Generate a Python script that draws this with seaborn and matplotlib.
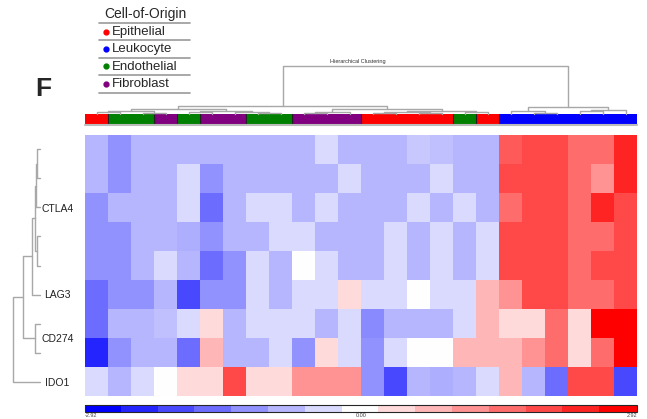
import numpy as np
import pandas as pd
import seaborn as sns
import matplotlib.pyplot as plt
from matplotlib.colors import LinearSegmentedColormap, ListedColormap, BoundaryNorm
from matplotlib.lines import Line2D
import matplotlib as mpl

# --- data ---
genes = ['CTLA4', 'CTLA4', 'CTLA4', 'CTLA4', 'CTLA4', 'LAG3', 'CD274', 'CD274', 'IDO1']
cell_origin = ['Epithelial', 'Endothelial', 'Endothelial', 'Fibroblast', 'Endothelial',
               'Fibroblast', 'Fibroblast', 'Endothelial', 'Endothelial', 'Fibroblast',
               'Fibroblast', 'Fibroblast', 'Epithelial', 'Epithelial', 'Epithelial',
               'Epithelial', 'Endothelial', 'Epithelial', 'Leukocyte', 'Leukocyte',
               'Leukocyte', 'Leukocyte', 'Leukocyte', 'Leukocyte']
origin_names = ['Epithelial', 'Leukocyte', 'Endothelial', 'Fibroblast']
origin_colors = ['#ff0000', '#0000ff', '#008000', '#800080']

# colour steps (-7..7) seen in the cells, scaled to the z range +-2.92
zmax = 2.92
levels = [
    [-2, -3, -2, -2, -2, -2, -2, -2, -2, -2, -1, -2, -2, -2, -1.5, -1.7, -2, -2, 4.5, 5, 5, 4, 4, 6],
    [-2, -3, -2, -2, -1, -3, -2, -2, -2, -2, -2, -1, -2, -2, -2, -1, -2, -2, 5, 5, 5, 4, 3, 6],
    [-3, -2, -2, -2, -1, -4, -2, -1, -1, -2, -1, -2, -2, -2, -1, -2, -1, -2, 4, 5, 5, 4, 6, 5],
    [-3, -3, -2, -2, -2.2, -3, -2, -2, -1, -1, -2, -2, -2, -1, -2, -1, -2, -1, 5, 5, 5, 4, 4, 5],
    [-3, -3, -2, -1, -2, -4, -3, -1, -2, 0, -1, -2, -2, -1, -2, -1, -2, -1, 5, 5, 5, 4, 5, 5],
    [-4, -3, -3, -2, -5, -3, -3, -1, -2, -1, -1, 1, -1, -1, 0, -1, -1, 2, 3, 5, 5, 4, 4, 5],
    [-4, -2, -2, -1.7, -1, 1, -2, -1, -1, -1, -2, -1, -3.2, -2, -2, -2, -1, 2, 1, 1, 4, 1, 7, 7],
    [-6, -3, -2, -2, -4, 2, -2, -2, -1, -3, 1, -1, -3, -1, 0, 0, 2, 2, 2, 3, 4, 1, 4, 7],
    [-1, -2, -1, 0, 1, 1, 5, 1, 1, 3, 3, 3, -3, -5, -2, -2.2, -2, -1, 2, -2, -4, 5, 5, -5],
]

# dendrograms as nested (left, right, height); ints are leaves
col_tree = (((((0, 1, 2), (2, 3, 1.5), 3.5), ((4, 5, 2), (6, (7, 8, 1), 2.5), 3.5), 5),
             (((9, 10, 1.5), 11, 2.5), (((12, 13, 1), (14, 15, 1.5), 2.5), (16, 17, 2), 3.5), 5.5), 8),
            ((18, (19, 20, 1.5), 3), ((21, 22, 3), 23, 4.5), 7.5), 49)
row_tree = (((((((0, 1, 3), 2, 4), (3, 4, 3), 5), 5, 8), (6, 7, 5), 17), 8, 27))

row_ticks = [2.5, 5.5, 7.0, 8.5]
row_tick_labels = ['CTLA4', 'LAG3', 'CD274', 'IDO1']

W, H = 647, 419


def box(x0, y0, x1, y1):
    return [x0 / W, 1 - y1 / H, (x1 - x0) / W, (y1 - y0) / H]


def draw_tree(ax, node, orient):
    if isinstance(node, int):
        return node + 0.5, 0
    l, r, h = node
    x1, h1 = draw_tree(ax, l, orient)
    x2, h2 = draw_tree(ax, r, orient)
    xs = [x1, x1, x2, x2]
    hs = [h1, h, h, h2]
    if orient == 'top':
        ax.plot(xs, hs, color='#a8a8a8', lw=1, clip_on=False)
    else:
        ax.plot(hs, xs, color='#a8a8a8', lw=1, clip_on=False)
    return (x1 + x2) / 2, h


sns.set_style('white')
plt.rcParams['font.family'] = ['Liberation Sans', 'DejaVu Sans']

fig = plt.figure(figsize=(W / 100, H / 100), dpi=100)

df = pd.DataFrame(np.array(levels) * zmax / 7)
cmap = LinearSegmentedColormap.from_list('bwr_', ['#0000ff', '#ffffff', '#ff0000'])

# heatmap
ax = fig.add_axes(box(85, 135, 637, 396))
sns.heatmap(df, ax=ax, cmap=cmap, vmin=-zmax, vmax=zmax, cbar=False,
            xticklabels=False, yticklabels=False)
ax.set_yticks(row_ticks)
ax.set_yticklabels(row_tick_labels, fontsize=7.5, color='#222222')
ax.tick_params(axis='y', length=0, pad=20)
for lbl in ax.get_yticklabels():
    lbl.set_ha('center')
ax.set_xlabel('')
ax.set_ylabel('')

# column colour strip
axc = fig.add_axes(box(85, 114, 637, 125))
codes = pd.DataFrame([[origin_names.index(c) for c in cell_origin]])
sns.heatmap(codes, ax=axc, cmap=ListedColormap(origin_colors), vmin=-0.5, vmax=3.5,
            cbar=False, xticklabels=False, yticklabels=False)
for i in range(1, len(cell_origin)):
    if cell_origin[i] != cell_origin[i - 1]:
        axc.axvline(i, color='#222222', lw=0.8)
axc.axhline(1, color='#bbbbbb', lw=1.5, clip_on=False)

# column dendrogram
axd = fig.add_axes(box(85, 66, 637, 114))
draw_tree(axd, col_tree, 'top')
axd.set_xlim(0, len(cell_origin))
axd.set_ylim(0, col_tree[2])
axd.axis('off')
fig.text(330 / W, 1 - 61 / H, 'Hierarchical Clustering', fontsize=4, va='center', color='#333333')

# row dendrogram
axr = fig.add_axes(box(13, 135, 40, 396))
draw_tree(axr, row_tree, 'left')
axr.set_xlim(row_tree[2], 0)
axr.set_ylim(len(genes), 0)
axr.axis('off')

# colour bar
cax = fig.add_axes(box(85, 405, 637, 412))
bounds = np.linspace(-zmax, zmax, 16)
steps = np.linspace(0, 1, 15)
cb = mpl.colorbar.ColorbarBase(cax, cmap=ListedColormap(cmap(steps)),
                               norm=BoundaryNorm(bounds, 15), orientation='horizontal',
                               ticks=[-zmax, 0, zmax], drawedges=False)
cb.solids.set_edgecolor('face')
cb.ax.set_xticklabels(['-2.92', '0.00', '2.92'], fontsize=4, color='#444444')
cb.ax.tick_params(length=0, pad=0.5)
cb.ax.minorticks_off()
cb.outline.set_linewidth(0.8)
labs = cb.ax.get_xticklabels()
labs[0].set_ha('left')
labs[-1].set_ha('right')

# legend with separator lines
fig.text(145 / W, 1 - 14 / H, 'Cell-of-Origin', fontsize=10, ha='center', va='center')
line_y = [23, 40, 58, 75, 93]
for yy in line_y:
    fig.add_artist(Line2D([99 / W, 190 / W], [1 - yy / H, 1 - yy / H], color='#999999', lw=1.2))
for k, (name, col) in enumerate(zip(origin_names, origin_colors)):
    yc = (line_y[k] + line_y[k + 1]) / 2
    fig.add_artist(Line2D([106 / W], [1 - yc / H], marker='o', color=col, markersize=3.5, lw=0))
    fig.text(112 / W, 1 - yc / H, name, fontsize=9.5, va='center')

fig.text(43 / W, 1 - 89 / H, 'F', fontsize=19, fontweight='bold', ha='center', va='center')

fig.savefig('out.png', dpi=100)
